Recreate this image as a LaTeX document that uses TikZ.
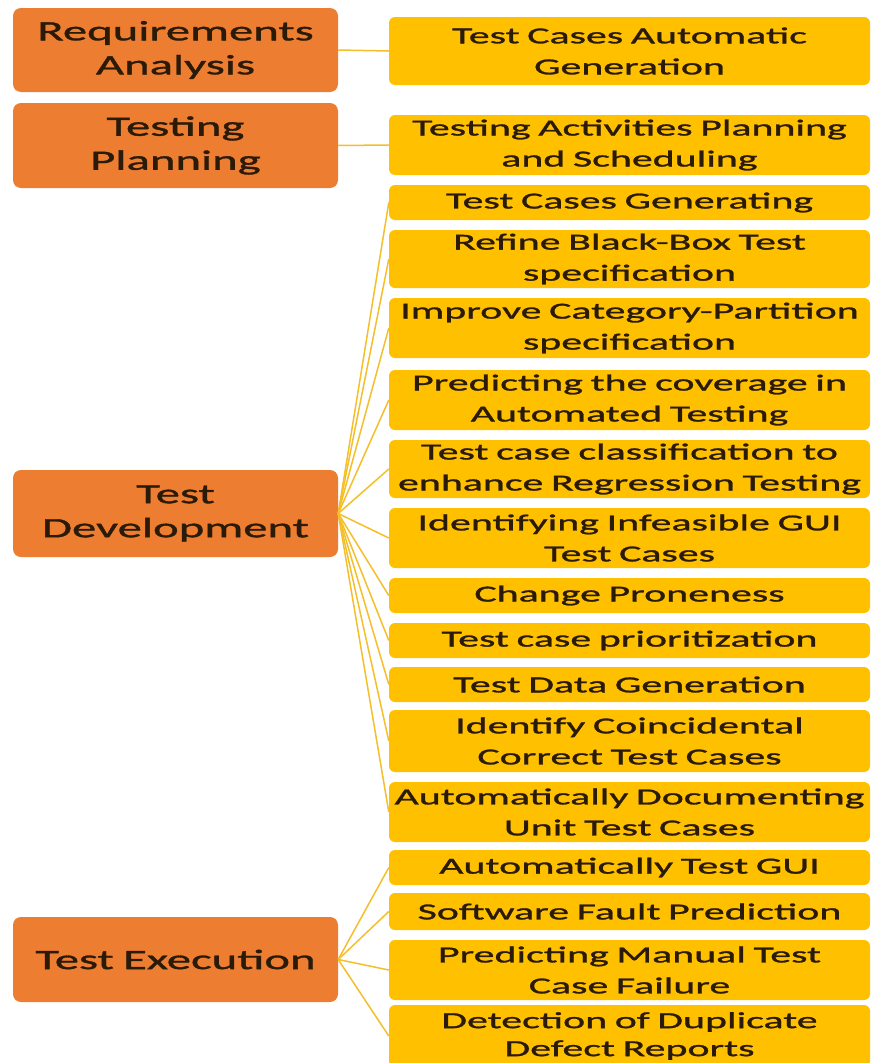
\documentclass[tikz,border=0pt]{standalone}
\usepackage{fontspec}
\newfontfamily\boxfont{Carlito}[FakeStretch=1.82, FakeBold=1.2]
\newfontfamily\parfont{Carlito}[FakeStretch=1.74, FakeBold=1.2]
\definecolor{orng}{HTML}{ED7D31}
\definecolor{gold}{HTML}{FFC000}
\definecolor{txt}{HTML}{2A1A08}
\definecolor{conn}{HTML}{F4BF2A}
\begin{document}
\begin{tikzpicture}[x=1pt,y=-1pt,
  parent/.style={fill=orng, rounded corners=8pt, minimum width=325pt, text width=323pt, align=center, inner sep=0pt, font=\parfont\fontsize{28}{34}\selectfont, text=txt},
  child/.style={fill=gold, rounded corners=6pt, minimum width=481pt, text width=479pt, align=center, inner sep=0pt, font=\boxfont\fontsize{23}{31}\selectfont, text=txt},
  link/.style={draw=conn, line width=1.5pt}]
\useasboundingbox (0,0) rectangle (871,1063);
\fill[white] (0,0) rectangle (871,1063);
% parents
\node[parent, minimum height=84pt] (ra) at (175.5,50) {Requirements\\Analysis};
\node[parent, minimum height=85pt] (tp) at (175.5,145.5) {Testing\\Planning};
\node[parent, minimum height=87pt] (td) at (175.5,513.5) {Test\\Development};
\node[parent, minimum height=85pt] (te) at (175.5,959.5) {Test Execution};
% children
\node[child, minimum height=68pt] (c1) at (629.5,51) {Test Cases Automatic\\Generation};
\node[child, minimum height=60pt] (c2) at (629.5,145) {Testing Activities Planning\\and Scheduling};
\node[child, minimum height=35pt] (c3) at (629.5,202.5) {Test Cases Generating};
\node[child, minimum height=58pt] (c4) at (629.5,259) {Refine Black-Box Test\\specification};
\node[child, minimum height=60pt] (c5) at (629.5,328) {Improve Category-Partition\\specification};
\node[child, minimum height=60pt] (c6) at (629.5,400) {Predicting the coverage in\\Automated Testing};
\node[child, minimum height=58pt] (c7) at (629.5,469) {Test case classification to\\enhance Regression Testing};
\node[child, minimum height=60pt] (c8) at (629.5,538) {Identifying Infeasible GUI\\Test Cases};
\node[child, minimum height=35pt] (c9) at (629.5,595.5) {Change Proneness};
\node[child, minimum height=35pt] (c10) at (629.5,640.5) {Test case prioritization};
\node[child, minimum height=35pt] (c11) at (629.5,684.5) {Test Data Generation};
\node[child, minimum height=62pt] (c12) at (629.5,741) {Identify Coincidental\\Correct Test Cases};
\node[child, minimum height=60pt] (c13) at (629.5,812) {Automatically Documenting\\Unit Test Cases};
\node[child, minimum height=35pt] (c14) at (629.5,867.5) {Automatically Test GUI};
\node[child, minimum height=37pt] (c15) at (629.5,911.5) {Software Fault Prediction};
\node[child, minimum height=60pt] (c16) at (629.5,970) {Predicting Manual Test\\Case Failure};
\node[child, minimum height=62pt, font=\boxfont\fontsize{23}{28}\selectfont] (c17) at (629.5,1036) {Detection of Duplicate\\Defect Reports};
% connectors
\draw[link] (ra.east) -- (c1.west);
\draw[link] (tp.east) -- (c2.west);
\foreach \c in {c3,c4,c5,c6,c7,c8,c9,c10,c11,c12,c13} \draw[link] (td.east) -- (\c.west);
\foreach \c in {c14,c15,c16,c17} \draw[link] (te.east) -- (\c.west);
\end{tikzpicture}
\end{document}
